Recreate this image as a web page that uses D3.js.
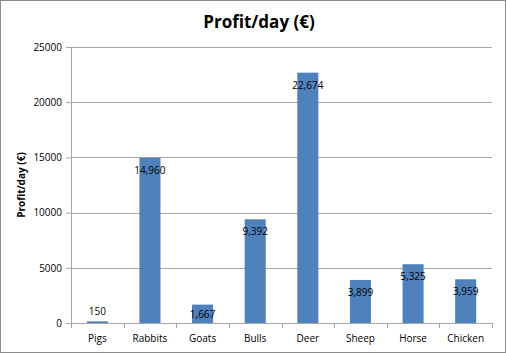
<!DOCTYPE html>
<html>
<head>
<meta charset="utf-8">
<script src="https://cdn.jsdelivr.net/npm/d3@7"></script>
<style>
  body { margin: 0; background: #fff; }
  text { font-family: "Open Sans", "Liberation Sans", sans-serif; }
</style>
</head>
<body>
<div id="chart-area"></div>
<script>
// Data
let animals = ["Pigs", "Rabbits", "Goats", "Bulls", "Deer", "Sheep", "Horse", "Chicken"];
let profits = [150, 14960, 1667, 9392, 22674, 3899, 5325, 3959];
let yTicks = [0, 5000, 10000, 15000, 20000, 25000];

let W = 506, H = 353;
let margin = {top: 47, right: 14, bottom: 30, left: 71};
let width = W - margin.left - margin.right,
    height = H - margin.top - margin.bottom;

let root = d3.select("#chart-area").append("svg")
    .attr("width", W)
    .attr("height", H);

// outer frame
root.append("rect")
    .attr("x", 0.5).attr("y", 0.5)
    .attr("width", W - 1).attr("height", H - 1)
    .attr("fill", "#fff")
    .attr("stroke", "#8c8c8c");

root.append("text")
    .attr("x", W / 2 + 6).attr("y", 28)
    .attr("text-anchor", "middle")
    .attr("font-size", 17)
    .attr("font-weight", "bold")
    .text("Profit/day (€)");

root.append("text")
    .attr("transform", "translate(25," + (margin.top + height / 2) + ") rotate(-90)")
    .attr("text-anchor", "middle")
    .attr("font-size", 10)
    .attr("font-weight", "bold")
    .text("Profit/day (€)");

let svg = root.append("g")
    .attr("transform", "translate(" + margin.left + "," + margin.top + ")");

// Scales
let x = d3.scaleBand()
    .domain(animals)
    .range([0, width])
    .paddingInner(0.6)
    .paddingOuter(0.3);

let y = d3.scaleLinear()
    .domain([0, 25000])
    .range([height, 0]);

// gridlines
svg.selectAll(".grid")
    .data(yTicks.filter(d => d > 0))
    .enter().append("line")
    .attr("x1", 0).attr("x2", width)
    .attr("y1", d => Math.round(y(d)) + 0.5)
    .attr("y2", d => Math.round(y(d)) + 0.5)
    .attr("stroke", "#a6a6a6");

// y axis
let yAxis = d3.axisLeft(y).tickValues(yTicks).tickFormat(d3.format("d")).tickSize(5).tickPadding(4);
let yg = svg.append("g").call(yAxis);
yg.select(".domain").attr("stroke", "#a6a6a6");
yg.selectAll(".tick line").attr("stroke", "#a6a6a6");
yg.selectAll(".tick text").attr("font-size", 10).attr("fill", "#000");

// bars
svg.selectAll(".bar")
    .data(animals)
    .enter().append("rect")
    .attr("class", "bar")
    .attr("x", (d) => x(d))
    .attr("y", (d, i) => y(profits[i]))
    .attr("width", x.bandwidth())
    .attr("height", (d, i) => height - y(profits[i]))
    .attr("fill", "#4f81bd");

// labels (inside end, above the bar when it is too short)
svg.selectAll(".lbl")
    .data(animals)
    .enter().append("text")
    .attr("class", "lbl")
    .attr("x", d => x(d) + x.bandwidth() / 2)
    .attr("y", (d, i) => {
        let top = y(profits[i]);
        if (height - top < 10) return top - 6;
        return Math.min(top + 16, (top + height) / 2 + 4);
    })
    .attr("text-anchor", "middle")
    .attr("font-size", 10)
    .attr("fill", "#000")
    .text((d, i) => d3.format(",")(profits[i]));

// x axis with ticks between categories
let xg = svg.append("g").attr("transform", "translate(0," + height + ")");
xg.append("line")
    .attr("x1", 0).attr("x2", width)
    .attr("y1", 0.5).attr("y2", 0.5)
    .attr("stroke", "#a6a6a6");
xg.selectAll(".xt")
    .data(d3.range(animals.length + 1))
    .enter().append("line")
    .attr("x1", i => Math.round(i * x.step()) + 0.5)
    .attr("x2", i => Math.round(i * x.step()) + 0.5)
    .attr("y1", 0).attr("y2", 5)
    .attr("stroke", "#a6a6a6");
xg.selectAll(".xl")
    .data(animals)
    .enter().append("text")
    .attr("x", d => x(d) + x.bandwidth() / 2)
    .attr("y", 19)
    .attr("text-anchor", "middle")
    .attr("font-size", 10)
    .attr("fill", "#000")
    .text(d => d);
</script>
</body>
</html>
